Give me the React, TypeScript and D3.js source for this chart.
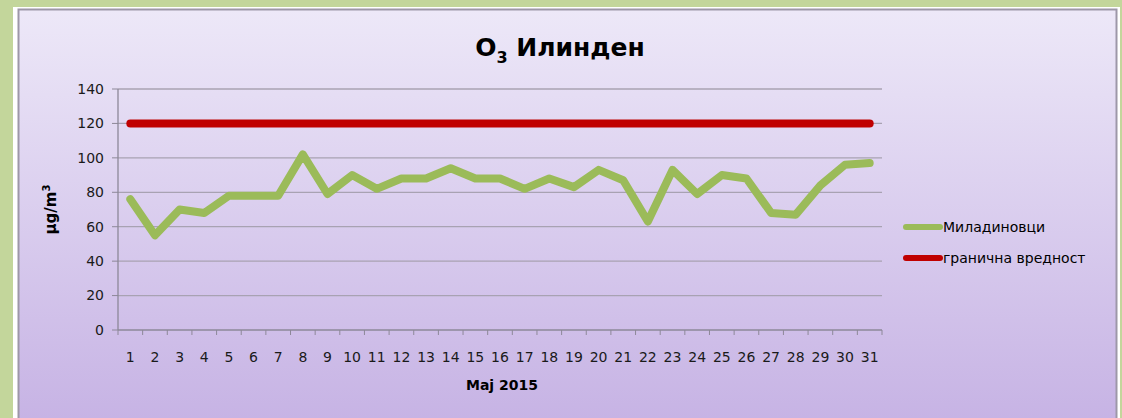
import React from "react";
import { scaleBand, scaleLinear, line } from "d3";

const days: string[] = [
  "1", "2", "3", "4", "5", "6", "7", "8", "9", "10", "11", "12", "13", "14", "15", "16",
  "17", "18", "19", "20", "21", "22", "23", "24", "25", "26", "27", "28", "29", "30", "31",
];
const miladinovci: number[] = [
  76, 55, 70, 68, 78, 78, 78, 102, 79, 90, 82, 88, 88, 94, 88, 88,
  82, 88, 83, 93, 87, 63, 93, 79, 90, 88, 68, 67, 84, 96, 97,
];
const limitValue: number[] = days.map(() => 120);
const yTicks: number[] = [0, 20, 40, 60, 80, 100, 120, 140];
const seriesNames: string[] = ["Миладиновци", "гранична вредност"];
const seriesColors: string[] = ["#9bbb59", "#c00000"];

const W = 1122;
const H = 418;
const margin = { left: 118, right: 240, top: 89, bottom: 88 };
const font = "'DejaVu Sans', Verdana, sans-serif";

const App: React.FC = () => {
  const x = scaleBand<string>()
    .domain(days)
    .range([margin.left, W - margin.right])
    .paddingInner(0)
    .paddingOuter(0);
  const y = scaleLinear().domain([0, 140]).range([H - margin.bottom, margin.top]);

  const cx = (d: string) => (x(d) as number) + x.bandwidth() / 2;

  const lineGen = line<number>()
    .x((_, i) => cx(days[i]))
    .y((v) => y(v));

  const x0 = margin.left;
  const x1 = W - margin.right;
  const y0 = y(0);

  return (
    <div style={{ position: "absolute", left: 0, top: 0 }}>
      <svg width={W} height={H} style={{ display: "block" }}>
        <defs>
          <linearGradient id="panelGrad" x1="0" y1="0" x2="0" y2="1">
            <stop offset="0%" stopColor="#ede8f8" />
            <stop offset="100%" stopColor="#c6b2e4" />
          </linearGradient>
        </defs>
        <rect x={0} y={0} width={W} height={H} fill="#c3d69b" />
        <rect x={13} y={7} width={1107} height={H} fill="#ffffff" />
        <rect x={18.5} y={9.5} width={1098} height={H} fill="url(#panelGrad)" stroke="#9d97a8" strokeWidth={2} />

        {/* title */}
        <text x={560} y={56} textAnchor="middle" fontFamily={font} fontWeight="bold" fontSize={25} fill="#000">
          O<tspan fontSize={16} dy={7}>3</tspan>
          <tspan dy={-7}> Илинден</tspan>
        </text>

        {/* grid */}
        {yTicks.filter((t) => t > 0).map((t) => (
          <line key={"g" + t} x1={x0} x2={x1} y1={y(t)} y2={y(t)} stroke="#a8a2b2" strokeWidth={1.3} />
        ))}
        {yTicks.map((t) => (
          <g key={"yt" + t}>
            <line x1={x0 - 6} x2={x0} y1={y(t)} y2={y(t)} stroke="#8d8898" strokeWidth={1} />
            <text x={x0 - 14} y={y(t)} dy="0.35em" textAnchor="end" fontFamily={font} fontSize={14} fill="#1a1a1a">
              {t}
            </text>
          </g>
        ))}
        {/* axes */}
        <line x1={x0} x2={x0} y1={y(140)} y2={y0} stroke="#8d8898" strokeWidth={1.3} />
        <line x1={x0} x2={x1} y1={y0} y2={y0} stroke="#8d8898" strokeWidth={1.3} />
        {days.map((d) => (
          <line key={"xt" + d} x1={x(d) as number} x2={x(d) as number} y1={y0} y2={y0 + 5} stroke="#8d8898" strokeWidth={1} />
        ))}
        <line x1={x1} x2={x1} y1={y0} y2={y0 + 5} stroke="#8d8898" strokeWidth={1} />
        {days.map((d) => (
          <text key={"xl" + d} x={cx(d)} y={y0 + 32} textAnchor="middle" fontFamily={font} fontSize={14} fill="#1a1a1a">
            {d}
          </text>
        ))}
        <text x={(x0 + x1) / 2 + 2} y={y0 + 60} textAnchor="middle" fontFamily={font} fontWeight="bold" fontSize={14} fill="#000">
          Maj 2015
        </text>
        <text
          transform={`translate(56, ${y(70)}) rotate(-90)`}
          textAnchor="middle"
          fontFamily={font}
          fontWeight="bold"
          fontSize={15}
          fill="#000"
        >
          μg/m<tspan fontSize={10} dy={-6}>3</tspan>
        </text>

        {/* series */}
        <path d={lineGen(limitValue) || ""} fill="none" stroke={seriesColors[1]} strokeWidth={8} strokeLinecap="round" strokeLinejoin="round" />
        <path d={lineGen(miladinovci) || ""} fill="none" stroke={seriesColors[0]} strokeWidth={8} strokeLinecap="round" strokeLinejoin="round" />

        {/* legend */}
        {seriesNames.map((name, i) => {
          const ly = 227 + i * 31;
          return (
            <g key={name}>
              <line x1={906} x2={940} y1={ly} y2={ly} stroke={seriesColors[i]} strokeWidth={6} strokeLinecap="round" />
              <text x={943} y={ly} dy="0.35em" fontFamily={font} fontSize={14} fill="#000">
                {name}
              </text>
            </g>
          );
        })}
      </svg>
    </div>
  );
};

export default App;
